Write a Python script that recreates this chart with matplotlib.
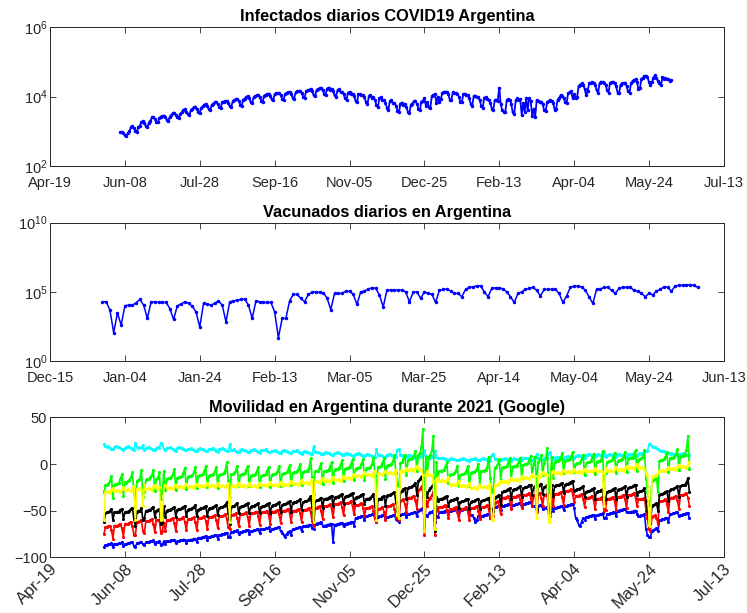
import numpy as np
import pandas as pd
import matplotlib
matplotlib.use('Agg')
import matplotlib.pyplot as plt
import matplotlib.dates as mdates
from matplotlib.ticker import FixedLocator, FuncFormatter, NullLocator

plt.rcParams['font.family'] = ['Liberation Sans', 'DejaVu Sans']
plt.rcParams['mathtext.default'] = 'regular'

# ---- casos diarios (desde 2020-06-05) ----
infect_start = '2020-06-05'
infectados = [
    930, 980, 870, 760, 720, 920, 1000,
    1350, 1400, 1250, 1050, 980, 1300, 1450,
    1850, 1950, 1700, 1400, 1300, 1750, 2000,
    2500, 2600, 2300, 1900, 1800, 2400, 2650,
    2700, 2850, 2500, 2100, 2000, 2600, 2900,
    3300, 3450, 3000, 2500, 2400, 3200, 3500,
    4100, 4250, 3700, 3100, 2900, 4000, 4300,
    4900, 5100, 4400, 3600, 3400, 4800, 5200,
    5900, 6100, 5300, 4300, 4000, 5800, 6200,
    6900, 7100, 6200, 4900, 4600, 6800, 7200,
    7400, 7600, 6600, 5200, 4900, 7300, 7700,
    8300, 8600, 7500, 5900, 5500, 8200, 8700,
    9800, 10200, 8800, 6900, 6400, 9700, 10300,
    10800, 11200, 9700, 7600, 7000, 10600, 11300,
    11800, 12200, 10500, 8300, 7700, 11600, 12300,
    12300, 12700, 11000, 8600, 8000, 12100, 12900,
    13200, 13700, 11900, 9300, 8700, 13100, 14000,
    14200, 14800, 12800, 10000, 9300, 14000, 15000,
    15700, 16300, 14100, 11000, 10200, 15500, 16600,
    17200, 17900, 15400, 12000, 11200, 17000, 18200,
    15800, 16200, 14000, 10800, 10000, 15400, 16000,
    13300, 13800, 11800, 8800, 8000, 13000, 13600,
    11800, 12200, 10300, 7600, 6900, 11500, 12000,
    10800, 11100, 9400, 6800, 6200, 10500, 11000,
    9300, 9600, 8000, 5600, 5100, 9000, 9500,
    7900, 8100, 6700, 4700, 4200, 7600, 8000,
    6400, 6600, 5500, 3900, 3500, 6300, 6700,
    5900, 6100, 5000, 3600, 3300, 5900, 6300,
    7300, 7600, 6300, 4400, 4000, 7200, 7600,
    8800, 5500, 7000, 5000, 4800, 10500, 11000,
    12000, 6500, 10000, 7000, 8500, 13000, 13800,
    13500, 13900, 11500, 8000, 8000, 13200, 13000,
    12300, 12000, 10000, 7000, 6800, 11500, 12200,
    11000, 10800, 8800, 6000, 5500, 10500, 10700,
    9800, 9600, 7800, 5300, 4800, 9300, 9500,
    8400, 8200, 6700, 4500, 4100, 8000, 8100,
    7600, 18000, 6000, 4000, 3700, 3500, 7800,
    8500, 8000, 6200, 3500, 3200, 7800, 8800,
    8000, 8500, 3000, 6500, 3500, 9000, 4000,
    9200, 7500, 2800, 4500, 2600, 8000, 7500,
    7000, 7200, 6000, 4000, 3800, 6800, 7500,
    7800, 7600, 6500, 4200, 4500, 8200, 9000,
    11000, 10500, 9000, 7000, 6500, 12500, 13500,
    14500, 9000, 12000, 9000, 9500, 20000, 22000,
    24000, 21000, 17000, 11000, 14000, 24000, 25000,
    26000, 25000, 22000, 15000, 13000, 24000, 27000,
    26000, 25000, 22000, 15000, 13000, 25000, 26500,
    26000, 24000, 20000, 13000, 12500, 22000, 24000,
    24500, 25000, 20000, 14000, 13000, 24000, 28000,
    30000, 31000, 26000, 16000, 18000, 32000, 35000,
    38000, 40000, 37000, 26000, 22000, 26000, 35000,
    41000, 35000, 28000, 25000, 21000, 36000, 33000,
    34000, 32000, 31000, 28000, 30000,
]

# ---- vacunados diarios (desde 2020-12-29) ----
vac_start = '2020-12-29'
vacunados = [
    19000, 19000, 4700, 110, 3000, 390, 9800,
    11000, 11000, 16000, 28000, 11000, 1200, 19000,
    19000, 17000, 17000, 17000, 6200, 1000, 9800,
    13000, 19000, 14500, 9100, 3500, 290, 14500,
    13000, 11000, 14500, 22000, 11000, 680, 19000,
    22000, 25000, 28000, 30000, 11000, 1200, 22000,
    19000, 17000, 17000, 17000, 3500, 49, 1200,
    1200, 22000, 65000, 65000, 33000, 19000, 65000,
    89000, 100000, 89000, 85000, 35000, 5200, 76000,
    76000, 76000, 112000, 112000, 65000, 12300, 100000,
    112000, 158000, 195000, 180000, 58000, 8100, 132000,
    132000, 132000, 132000, 132000, 100000, 19000, 89000,
    100000, 33000, 100000, 76000, 65000, 17000, 126000,
    150000, 158000, 112000, 76000, 76000, 44000, 148000,
    209000, 230000, 269000, 269000, 100000, 44000, 174000,
    195000, 195000, 160000, 100000, 44000, 17000, 76000,
    100000, 150000, 174000, 209000, 126000, 50000, 150000,
    150000, 150000, 150000, 76000, 17000, 50000, 209000,
    250000, 250000, 230000, 126000, 44000, 14500, 150000,
    158000, 209000, 209000, 126000, 76000, 174000, 209000,
    209000, 209000, 126000, 110000, 76000, 44000, 76000,
    60000, 110000, 150000, 230000, 209000, 110000, 270000,
    290000, 290000, 300000, 320000, 290000, 209000,
]

# ---- movilidad Google (desde 2020-05-25, lunes a domingo por fila) ----
mov_start = '2020-05-25'
mov_residencial = [
    21, 19, 18, 19, 17, 16, 16,
    18, 19, 18, 18, 17, 16, 15,
    17, 18, 19, 18, 17, 16, 15,
    23, 18, 17, 18, 17, 20, 15,
    17, 17, 18, 17, 16, 15, 15,
    17, 18, 17, 23, 21, 16, 15,
    17, 17, 18, 17, 16, 15, 14,
    17, 18, 17, 17, 16, 15, 15,
    16, 16, 17, 16, 15, 14, 14,
    16, 17, 16, 16, 15, 14, 14,
    16, 16, 16, 17, 15, 14, 13,
    16, 16, 17, 16, 15, 14, 14,
    21, 15, 15, 16, 14, 13, 13,
    15, 16, 15, 15, 14, 13, 13,
    15, 15, 16, 15, 14, 13, 12,
    15, 15, 15, 16, 14, 13, 13,
    14, 14, 15, 14, 13, 12, 12,
    14, 15, 14, 14, 13, 12, 12,
    14, 14, 14, 15, 13, 12, 11,
    13, 14, 13, 13, 12, 11, 11,
    19, 13, 13, 13, 12, 11, 11,
    12, 13, 12, 12, 11, 10, 10,
    12, 12, 13, 12, 11, 10, 10,
    11, 12, 11, 11, 10, 9, 9,
    11, 11, 12, 11, 10, 9, 9,
    10, 11, 10, 10, 9, 8, 8,
    16, 10, 10, 10, 9, 8, 8,
    10, 10, 11, 10, 9, 8, 8,
    15, 16, 10, 10, 9, 8, 8,
    9, 10, 9, 9, 8, 7, 7,
    8, 8, 9, 10, 15, 9, 7,
    7, 7, 8, 9, 14, 8, 6,
    6, 6, 7, 6, 5, 5, 4,
    5, 6, 5, 5, 4, 4, 4,
    5, 5, 6, 5, 4, 4, 3,
    5, 5, 5, 6, 4, 4, 4,
    5, 6, 5, 5, 4, 4, 3,
    10, 11, 5, 5, 4, 4, 4,
    5, 5, 6, 5, 4, 4, 3,
    5, 6, 5, 5, 4, 4, 4,
    6, 6, 7, 6, 5, 4, 4,
    6, 6, 11, 6, 5, 5, 4,
    6, 7, 6, 12, 13, 6, 5,
    7, 7, 8, 7, 6, 6, 5,
    8, 8, 9, 8, 7, 7, 6,
    9, 9, 10, 9, 8, 7, 7,
    10, 10, 11, 10, 9, 8, 8,
    10, 11, 10, 10, 9, 13, 8,
    10, 10, 11, 10, 9, 8, 8,
    10, 11, 10, 10, 9, 8, 8,
    11, 10, 11, 11, 10, 9, 9,
    11, 12, 11, 12, 13, 14, 14,
    21, 22, 19, 18, 18, 17, 16,
    15, 14, 14, 14, 13, 12, 12,
    11, 12, 11, 11, 10, 10, 9,
    11, 11, 12, 11, 10, 9, 10,
]
mov_supermercados = [
    -30, -23, -22, -21, -18, -13, -36,
    -22, -21, -21, -20, -16, -11, -34,
    -19, -20, -18, -17, -14, -9, -32,
    -40, -18, -17, -16, -6, -35, -30,
    -17, -16, -16, -14, -12, -6, -29,
    -16, -15, -9, -38, -30, -7, -28,
    -16, -15, -15, -14, -11, -5, -28,
    -15, -14, -14, -13, -10, -4, -27,
    -14, -13, -13, -12, -9, -3, -26,
    -13, -12, -12, -11, -8, -2, -25,
    -13, -12, -12, -11, -8, -3, -26,
    -12, -11, -11, -10, -7, 2, -18,
    -35, -11, -11, -10, -7, -2, -24,
    -12, -11, -11, -10, -6, -2, -24,
    -13, -12, -12, -11, -8, -3, -25,
    -13, -12, -12, -11, -7, -3, -25,
    -12, -11, -11, -10, -7, -2, -24,
    -11, -10, -10, -9, -6, -1, -23,
    -10, -9, -9, -8, -5, 0, -22,
    -9, -8, -8, -7, -4, 6, -14,
    -32, -8, -8, -7, -4, 1, -21,
    -8, -7, -7, -6, -3, 2, -20,
    -6, -5, -5, -4, -1, 4, -18,
    -5, -4, -4, -3, 0, 5, -17,
    -5, -4, -4, -3, 0, 5, -17,
    -5, -4, -4, -3, 0, 7, -12,
    -28, -3, -3, -2, 1, 6, -16,
    -2, -1, -1, 0, 3, 10, -10,
    -22, -24, 1, 2, 5, 10, -12,
    4, 5, 5, 6, 9, 14, -8,
    10, 12, 18, 38, -70, 8, -10,
    8, 10, 15, 30, -70, 2, -15,
    -8, -7, -7, -6, -3, 2, -20,
    -12, -11, -11, -10, -7, -2, -24,
    -12, -11, -11, -10, -7, -2, -24,
    -10, -9, -9, -8, -5, 0, -22,
    -8, -7, -7, -6, -3, 8, -15,
    -30, -28, -4, -3, 0, 5, -17,
    -4, -3, -3, -2, 1, 6, -16,
    -3, -2, -2, -1, 2, 7, -15,
    -1, 0, 0, 1, 4, 9, -13,
    0, 8, -25, 2, 5, 10, -12,
    1, 5, 17, -30, -25, 8, -15,
    2, 3, 3, 4, 7, 12, -10,
    3, 4, 4, 5, 8, 13, -9,
    0, 1, 1, 2, 5, 10, -12,
    1, 2, 2, 3, 6, 11, -11,
    2, 3, 3, 4, 14, -25, -10,
    2, 3, 3, 4, 7, 12, -10,
    3, 4, 4, 5, 8, 13, -9,
    5, 6, 6, 7, 10, 15, -7,
    4, 5, 6, 8, 15, -15, -30,
    -44, -40, -18, -17, -16, -15, -30,
    3, 4, 4, 5, 8, 13, -9,
    6, 7, 7, 8, 11, 16, -6,
    8, 9, 9, 10, 15, 30, -5,
]
mov_trabajo = [
    -60, -30, -30, -29, -31, -28, -26,
    -29, -29, -28, -29, -30, -27, -25,
    -28, -28, -27, -28, -29, -26, -24,
    -60, -27, -27, -26, -28, -45, -23,
    -27, -27, -26, -27, -28, -25, -23,
    -26, -26, -25, -60, -58, -24, -22,
    -26, -26, -25, -26, -27, -24, -22,
    -25, -25, -24, -25, -26, -23, -21,
    -25, -25, -24, -25, -26, -23, -21,
    -24, -24, -23, -24, -25, -22, -20,
    -24, -24, -23, -24, -25, -22, -20,
    -24, -24, -23, -24, -25, -22, -20,
    -62, -24, -23, -24, -25, -22, -20,
    -24, -24, -23, -24, -25, -22, -20,
    -24, -24, -23, -24, -25, -22, -20,
    -23, -23, -22, -23, -24, -21, -19,
    -23, -23, -22, -23, -24, -21, -19,
    -22, -22, -21, -22, -23, -20, -18,
    -21, -21, -20, -21, -22, -19, -17,
    -20, -20, -19, -20, -21, -18, -16,
    -62, -19, -18, -19, -20, -17, -15,
    -18, -18, -17, -18, -19, -16, -14,
    -17, -17, -16, -17, -18, -15, -13,
    -15, -15, -14, -15, -16, -13, -11,
    -13, -13, -12, -13, -14, -11, -9,
    -12, -12, -11, -12, -13, -10, -8,
    -60, -11, -10, -11, -12, -9, -7,
    -10, -10, -9, -10, -11, -8, -6,
    -55, -58, -8, -8, -9, -6, -4,
    -6, -6, -5, -6, -7, -4, -2,
    -5, -5, -6, -12, -72, -12, -8,
    -12, -12, -12, -18, -70, -16, -14,
    -18, -18, -17, -18, -19, -16, -14,
    -22, -22, -21, -22, -23, -20, -18,
    -24, -24, -23, -24, -25, -22, -20,
    -26, -26, -25, -26, -27, -24, -22,
    -25, -25, -24, -25, -26, -23, -21,
    -60, -60, -22, -22, -23, -20, -18,
    -19, -19, -18, -19, -20, -17, -15,
    -17, -17, -16, -17, -18, -15, -13,
    -15, -15, -14, -15, -16, -13, -11,
    -13, -13, -58, -13, -14, -11, -9,
    -11, -11, -12, -62, -62, -9, -7,
    -10, -10, -9, -10, -11, -8, -6,
    -9, -9, -8, -9, -10, -7, -5,
    -9, -9, -8, -9, -10, -7, -5,
    -8, -8, -7, -8, -9, -6, -4,
    -8, -8, -7, -8, -9, -45, -4,
    -7, -7, -6, -7, -8, -5, -3,
    -6, -6, -5, -6, -7, -4, -2,
    -4, -4, -3, -4, -5, -2, 0,
    -4, -4, -3, -4, -5, -10, -12,
    -65, -66, -14, -13, -13, -12, -10,
    -7, -7, -6, -7, -8, -5, -3,
    -5, -5, -4, -5, -6, -3, -1,
    -3, -3, -2, -3, -4, -1, 2,
]
mov_comercios = [
    -62, -53, -52, -52, -50, -48, -60,
    -52, -52, -51, -51, -49, -48, -59,
    -52, -51, -51, -50, -48, -47, -59,
    -66, -51, -50, -50, -47, -60, -58,
    -50, -50, -49, -49, -47, -46, -57,
    -50, -49, -48, -64, -62, -45, -57,
    -50, -49, -49, -48, -47, -46, -57,
    -49, -48, -48, -47, -46, -45, -56,
    -49, -48, -48, -47, -46, -44, -56,
    -49, -48, -47, -47, -46, -45, -56,
    -48, -47, -47, -46, -45, -44, -55,
    -47, -46, -46, -45, -44, -41, -53,
    -64, -46, -45, -45, -43, -42, -53,
    -46, -45, -45, -44, -43, -42, -53,
    -46, -45, -45, -44, -43, -42, -53,
    -46, -45, -45, -44, -43, -42, -53,
    -45, -44, -44, -43, -42, -41, -52,
    -44, -43, -43, -42, -41, -40, -51,
    -42, -41, -41, -40, -39, -38, -49,
    -41, -40, -40, -39, -37, -34, -46,
    -62, -40, -39, -39, -37, -36, -47,
    -38, -37, -37, -36, -35, -34, -45,
    -36, -35, -35, -34, -33, -32, -43,
    -35, -34, -34, -33, -32, -31, -42,
    -36, -35, -35, -34, -33, -32, -43,
    -38, -37, -37, -36, -34, -32, -45,
    -58, -38, -37, -37, -35, -34, -45,
    -34, -33, -33, -32, -31, -30, -41,
    -50, -55, -30, -29, -27, -26, -37,
    -26, -25, -25, -24, -22, -20, -33,
    -18, -16, -14, -12, -72, -30, -35,
    -28, -26, -24, -22, -72, -35, -40,
    -38, -37, -37, -36, -35, -34, -45,
    -40, -39, -39, -38, -37, -36, -47,
    -41, -40, -40, -39, -38, -37, -48,
    -41, -40, -40, -39, -38, -37, -48,
    -40, -39, -39, -38, -37, -36, -47,
    -48, -50, -36, -35, -34, -33, -44,
    -30, -29, -29, -28, -27, -26, -37,
    -28, -27, -27, -26, -25, -24, -35,
    -26, -25, -25, -24, -23, -22, -33,
    -25, -24, -48, -24, -22, -21, -32,
    -25, -24, -22, -50, -52, -23, -34,
    -24, -23, -23, -22, -21, -20, -31,
    -22, -21, -21, -20, -19, -18, -29,
    -28, -27, -27, -26, -25, -24, -35,
    -30, -29, -29, -28, -27, -26, -37,
    -30, -29, -29, -28, -27, -45, -37,
    -30, -29, -29, -28, -27, -26, -37,
    -28, -27, -27, -26, -25, -24, -35,
    -26, -25, -25, -24, -23, -22, -33,
    -30, -29, -29, -28, -26, -40, -50,
    -62, -64, -45, -44, -43, -42, -50,
    -33, -32, -32, -31, -30, -29, -40,
    -28, -27, -27, -26, -25, -24, -35,
    -24, -23, -23, -22, -20, -15, -30,
]
mov_parques = [
    -75, -68, -68, -67, -66, -71, -80,
    -66, -66, -66, -65, -64, -69, -78,
    -64, -64, -64, -63, -62, -67, -76,
    -76, -62, -62, -61, -60, -72, -74,
    -61, -61, -61, -60, -59, -64, -73,
    -60, -60, -60, -74, -72, -63, -72,
    -60, -60, -60, -59, -58, -63, -72,
    -59, -59, -59, -58, -57, -62, -71,
    -59, -59, -59, -58, -57, -62, -71,
    -58, -58, -58, -57, -56, -61, -70,
    -57, -57, -57, -56, -55, -60, -69,
    -56, -56, -56, -55, -54, -59, -68,
    -70, -55, -55, -54, -53, -58, -67,
    -54, -54, -54, -53, -52, -57, -66,
    -53, -53, -53, -52, -51, -56, -65,
    -52, -52, -52, -51, -50, -55, -64,
    -51, -51, -51, -50, -49, -54, -63,
    -50, -50, -50, -49, -48, -53, -62,
    -50, -50, -50, -49, -48, -53, -62,
    -49, -49, -49, -48, -47, -52, -61,
    -66, -47, -47, -46, -45, -50, -59,
    -45, -45, -45, -44, -43, -48, -57,
    -43, -43, -43, -42, -41, -46, -55,
    -42, -42, -42, -41, -40, -45, -54,
    -44, -44, -44, -43, -42, -47, -56,
    -47, -47, -47, -46, -45, -50, -59,
    -62, -48, -48, -47, -46, -51, -60,
    -45, -45, -45, -44, -43, -48, -57,
    -58, -60, -40, -39, -38, -43, -52,
    -36, -36, -36, -35, -34, -39, -48,
    -28, -27, -25, -22, -76, -40, -45,
    -38, -36, -33, -30, -76, -45, -50,
    -46, -46, -46, -45, -44, -49, -58,
    -48, -48, -48, -47, -46, -51, -60,
    -48, -48, -48, -47, -46, -51, -60,
    -47, -47, -47, -46, -45, -50, -59,
    -46, -46, -46, -45, -44, -49, -58,
    -55, -56, -42, -41, -40, -45, -54,
    -36, -36, -36, -35, -34, -39, -48,
    -35, -35, -35, -34, -33, -38, -47,
    -33, -33, -33, -32, -31, -36, -45,
    -33, -33, -52, -32, -31, -36, -45,
    -33, -33, -32, -55, -56, -36, -45,
    -32, -32, -32, -31, -30, -35, -44,
    -29, -29, -29, -28, -27, -32, -41,
    -34, -34, -34, -33, -32, -37, -46,
    -36, -36, -36, -35, -34, -39, -48,
    -37, -37, -37, -36, -35, -50, -49,
    -37, -37, -37, -36, -35, -40, -49,
    -35, -35, -35, -34, -33, -38, -47,
    -33, -33, -33, -32, -31, -36, -45,
    -38, -38, -38, -37, -36, -50, -58,
    -70, -72, -57, -56, -55, -58, -64,
    -40, -40, -40, -39, -38, -43, -52,
    -36, -36, -36, -35, -34, -39, -48,
    -33, -33, -33, -32, -31, -36, -45,
]
mov_transporte = [
    -89, -87, -87, -86, -86, -85, -89,
    -86, -86, -86, -85, -85, -84, -88,
    -86, -86, -85, -85, -84, -84, -88,
    -89, -85, -85, -84, -84, -86, -87,
    -84, -84, -84, -83, -83, -82, -86,
    -84, -84, -83, -87, -86, -83, -86,
    -83, -83, -83, -82, -82, -81, -85,
    -83, -83, -82, -82, -81, -81, -85,
    -82, -82, -81, -81, -80, -80, -84,
    -79, -79, -79, -78, -78, -77, -81,
    -78, -78, -77, -77, -76, -76, -80,
    -76, -76, -75, -75, -74, -74, -78,
    -78, -73, -73, -72, -72, -71, -75,
    -73, -73, -72, -72, -71, -71, -75,
    -72, -72, -71, -71, -70, -70, -74,
    -70, -70, -70, -69, -69, -68, -72,
    -70, -70, -69, -69, -68, -68, -72,
    -74, -76, -78, -75, -73, -72, -76,
    -70, -70, -69, -69, -68, -68, -72,
    -67, -67, -66, -66, -65, -65, -69,
    -70, -64, -64, -63, -63, -62, -66,
    -66, -66, -65, -65, -64, -64, -84,
    -65, -65, -64, -64, -63, -63, -67,
    -64, -64, -63, -63, -62, -62, -66,
    -58, -58, -57, -57, -56, -56, -60,
    -56, -56, -55, -55, -54, -54, -58,
    -62, -57, -56, -56, -55, -55, -59,
    -57, -57, -56, -56, -55, -55, -59,
    -60, -62, -55, -54, -54, -53, -57,
    -54, -54, -53, -53, -52, -52, -56,
    -50, -49, -48, -47, -60, -55, -56,
    -53, -52, -51, -50, -62, -56, -57,
    -52, -52, -51, -51, -50, -50, -54,
    -50, -50, -49, -49, -48, -48, -52,
    -49, -49, -48, -48, -47, -47, -51,
    -55, -55, -58, -62, -60, -56, -58,
    -56, -56, -55, -55, -54, -54, -58,
    -50, -50, -46, -46, -45, -45, -49,
    -45, -45, -44, -44, -43, -43, -47,
    -44, -44, -43, -43, -42, -42, -46,
    -43, -43, -42, -42, -41, -41, -45,
    -45, -45, -50, -45, -44, -44, -48,
    -47, -47, -46, -52, -53, -47, -50,
    -47, -47, -46, -46, -45, -45, -49,
    -45, -45, -44, -44, -43, -43, -47,
    -58, -60, -65, -67, -62, -58, -60,
    -57, -57, -56, -56, -55, -55, -59,
    -55, -55, -54, -54, -53, -58, -58,
    -54, -54, -53, -53, -52, -52, -56,
    -50, -50, -49, -49, -48, -48, -52,
    -52, -52, -51, -51, -50, -50, -54,
    -56, -56, -55, -55, -54, -70, -76,
    -78, -78, -72, -71, -70, -69, -72,
    -60, -60, -59, -59, -58, -58, -62,
    -54, -54, -53, -53, -52, -52, -56,
    -55, -55, -54, -54, -53, -53, -58,
]

top_ticks = pd.date_range('2020-04-19', periods=10, freq='50D')
mid_ticks = pd.date_range('2020-12-15', periods=10, freq='20D')

dark = '#262626'


def estilo(ax):
    ax.tick_params(direction='in', length=4, width=0.6, top=True, right=True,
                   labelsize=10.5, colors=dark)
    ax.tick_params(axis='x', pad=7)
    ax.tick_params(axis='y', pad=2)
    for s in ax.spines.values():
        s.set_color(dark)
        s.set_linewidth(0.7)


def pot10(v, pos):
    return r'$10^{%d}$' % int(round(np.log10(v)))


fig = plt.figure(figsize=(7.47, 6.13), dpi=100)
ax1 = fig.add_axes([0.067, 0.729, 0.902, 0.227])
ax2 = fig.add_axes([0.067, 0.411, 0.902, 0.226])
ax3 = fig.add_axes([0.067, 0.091, 0.902, 0.228])

# infectados
d1 = pd.date_range(infect_start, periods=len(infectados), freq='D')
ax1.semilogy(d1, infectados, '.-', color='blue', lw=1.3, ms=3)
ax1.set_ylim(1e2, 1e6)
ax1.yaxis.set_major_locator(FixedLocator([1e2, 1e4, 1e6]))
ax1.yaxis.set_minor_locator(NullLocator())
ax1.yaxis.set_major_formatter(FuncFormatter(pot10))
ax1.set_xlim(top_ticks[0], top_ticks[-1])
ax1.set_xticks(top_ticks)
ax1.xaxis.set_major_formatter(mdates.DateFormatter('%b-%d'))
ax1.set_title('Infectados diarios COVID19 Argentina', fontsize=11.8,
              fontweight='bold', pad=4)
estilo(ax1)

# vacunados
d2 = pd.date_range(vac_start, periods=len(vacunados), freq='D')
ax2.semilogy(d2, vacunados, '.-', color='blue', lw=1.1, ms=3)
ax2.set_ylim(1e0, 1e10)
ax2.yaxis.set_major_locator(FixedLocator([1e0, 1e5, 1e10]))
ax2.yaxis.set_minor_locator(NullLocator())
ax2.yaxis.set_major_formatter(FuncFormatter(pot10))
ax2.set_xlim(mid_ticks[0], mid_ticks[-1])
ax2.set_xticks(mid_ticks)
ax2.xaxis.set_major_formatter(mdates.DateFormatter('%b-%d'))
ax2.set_title('Vacunados diarios en Argentina', fontsize=11.8,
              fontweight='bold', pad=4)
estilo(ax2)

# movilidad
d3 = pd.date_range(mov_start, periods=len(mov_residencial), freq='D')
series = [(mov_transporte, 'blue'), (mov_parques, 'red'), (mov_comercios, 'black'),
          (mov_residencial, 'cyan'), (mov_supermercados, 'lime'), (mov_trabajo, 'yellow')]
for vals, col in series:
    ax3.plot(d3, vals, '.-', color=col, lw=1.2, ms=2.5)
ax3.set_ylim(-100, 50)
ax3.set_yticks([-100, -50, 0, 50])
ax3.set_xlim(top_ticks[0], top_ticks[-1])
ax3.set_xticks(top_ticks)
ax3.xaxis.set_major_formatter(mdates.DateFormatter('%b-%d'))
ax3.set_title('Movilidad en Argentina durante 2021 (Google)', fontsize=11.8,
              fontweight='bold', pad=4)
estilo(ax3)
ax3.tick_params(axis='x', labelsize=12, pad=3)
for lab in ax3.get_xticklabels():
    lab.set_rotation(45)
    lab.set_ha('right')
    lab.set_rotation_mode('anchor')

fig.savefig('out.png', dpi=100)
